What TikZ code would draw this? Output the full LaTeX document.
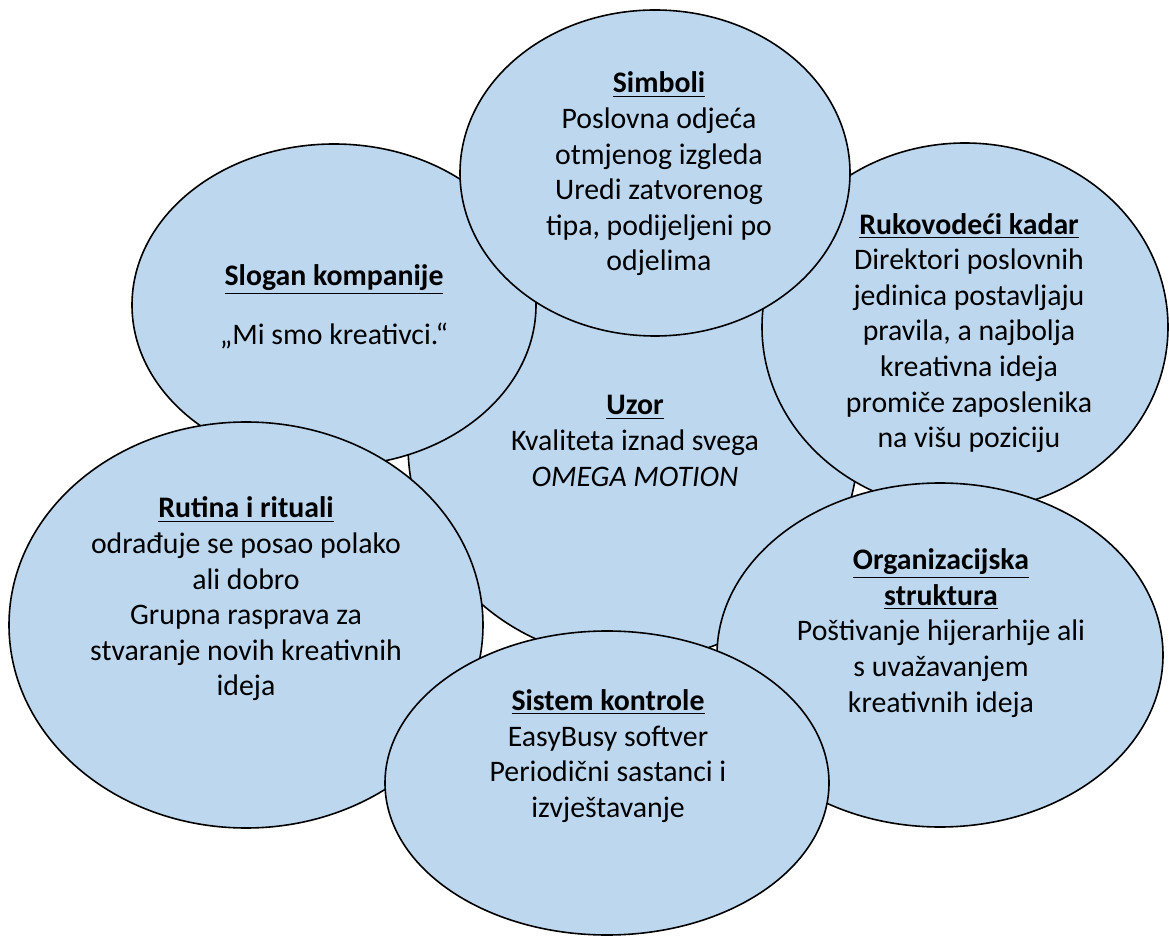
\documentclass[tikz,border=0pt]{standalone}
\usepackage{fontspec}
\setmainfont{Carlito}
\usepackage{tikz}
\usetikzlibrary{shapes.geometric}
\usepackage{xcolor}
\definecolor{ovalblue}{RGB}{189,215,238}

\newcommand{\ovtitle}[1]{\textbf{\underline{#1}}}

\begin{document}
\begin{tikzpicture}[x=0.5pt, y=-0.5pt,
    oval/.style={ellipse, draw=black, line width=0.8pt, fill=ovalblue,
                 inner sep=0pt, outer sep=0pt},
    ovtext/.style={align=center, inner sep=0pt,
                   font=\fontsize{14.9pt}{17.8pt}\selectfont}
]
\useasboundingbox (0,0) rectangle (1169,936);

\node[oval, minimum width=225pt, minimum height=215pt] (uzor) at (633,445) {};
\node[oval, minimum width=202pt, minimum height=161pt] (slogan) at (334,305) {};
\node[oval, minimum width=203pt, minimum height=184pt] (kadar) at (965,327) {};
\node[oval, minimum width=195pt, minimum height=163pt] (simboli) at (655,173) {};
\node[oval, minimum width=237pt, minimum height=203pt] (rutina) at (246,625) {};
\node[oval, minimum width=223pt, minimum height=172pt] (struktura) at (940,655) {};
\node[oval, minimum width=222pt, minimum height=152pt] (kontrola) at (607,783) {};

\node[ovtext] (uzor-txt) at (635,441) {\ovtitle{Uzor}\\Kvaliteta iznad svega\\\textit{OMEGA MOTION}};
\node[ovtext] (slogan-txt) at (334,307) {\ovtitle{Slogan kompanije}\\[11.7pt]„Mi smo kreativci.“};
\node[ovtext] (kadar-txt) at (969,333) {\ovtitle{Rukovodeći kadar}\\Direktori poslovnih\\jedinica postavljaju\\pravila, a najbolja\\kreativna ideja\\promiče zaposlenika\\na višu poziciju};
\node[ovtext] (simboli-txt) at (659,174) {\ovtitle{Simboli}\\Poslovna odjeća\\otmjenog izgleda\\Uredi zatvorenog\\tipa, podijeljeni po\\odjelima};
\node[ovtext] (rutina-txt) at (246,599) {\ovtitle{Rutina i rituali}\\odrađuje se posao polako\\ali dobro\\Grupna rasprava za\\stvaranje novih kreativnih\\ideja};
\node[ovtext] (struktura-txt) at (941,633) {\ovtitle{Organizacijska}\\\ovtitle{struktura}\\Poštivanje hijerarhije ali\\s uvažavanjem\\kreativnih ideja};
\node[ovtext] (kontrola-txt) at (608,756) {\ovtitle{Sistem kontrole}\\EasyBusy softver\\Periodični sastanci i\\izvještavanje};
\end{tikzpicture}
\end{document}
